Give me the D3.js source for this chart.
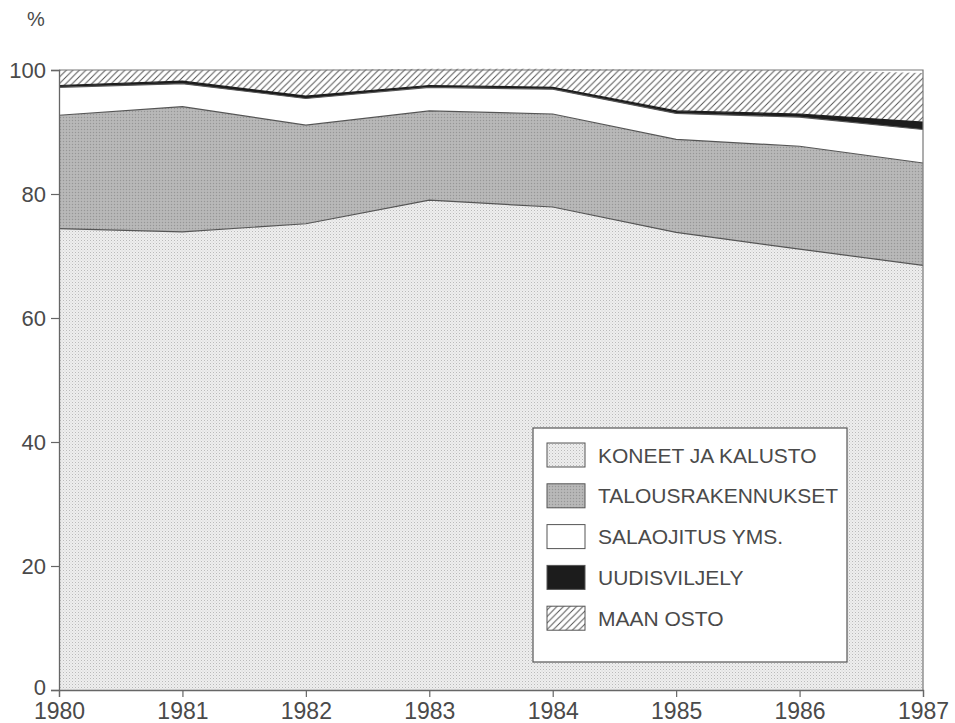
<!DOCTYPE html>
<html><head><meta charset="utf-8">
<script src="https://cdn.jsdelivr.net/npm/d3@7"></script>
<style>
body{margin:0;background:#fff;}
svg{display:block;}
text{font-family:"Liberation Sans",Arial,sans-serif;fill:#4a4a4a;}
</style></head>
<body>
<svg id="c" width="955" height="723"></svg>
<script>
const years = [1980,1981,1982,1983,1984,1985,1986,1987];
const koneet = [74.4,73.9,75.2,79.0,77.9,73.8,71.1,68.5];
const talous = [18.3,20.2,15.9,14.4,15.0,15.0,16.6,16.5];
const salaojitus = [4.5,3.7,4.3,3.8,4.0,4.2,4.7,5.4];
const uudis = [0.3,0.4,0.4,0.3,0.3,0.4,0.5,1.2];
const maanOsto = [2.5,1.8,4.2,2.7,3.0,6.6,7.1,7.9];
const yTicks = [0,20,40,60,80,100];
const seriesNames = ["KONEET JA KALUSTO","TALOUSRAKENNUKSET","SALAOJITUS YMS.","UUDISVILJELY","MAAN OSTO"];
const keys = ["koneet","talous","salaojitus","uudis","maan"];

const rows = years.map((y,i)=>({year:y,koneet:koneet[i],talous:talous[i],salaojitus:salaojitus[i],uudis:uudis[i],maan:maanOsto[i]}));

const svg = d3.select("#c");
const L=59, R=923, T=70, B=690;
const x = d3.scaleLinear().domain([1980,1987]).range([L,R]);
const y = d3.scaleLinear().domain([0,100]).range([B,T]);

const defs = svg.append("defs");
const p1 = defs.append("pattern").attr("id","pKon").attr("width",3).attr("height",3).attr("patternUnits","userSpaceOnUse");
p1.append("rect").attr("width",3).attr("height",3).attr("fill","#eeeeee");
p1.append("rect").attr("width",1).attr("height",1).attr("fill","#bababa");
p1.append("rect").attr("x",1.5).attr("y",1.5).attr("width",1).attr("height",1).attr("fill","#d2d2d2");
const p2 = defs.append("pattern").attr("id","pTal").attr("width",3).attr("height",3).attr("patternUnits","userSpaceOnUse");
p2.append("rect").attr("width",3).attr("height",3).attr("fill","#b4b4b4");
p2.append("rect").attr("width",1).attr("height",1).attr("fill","#969696");
p2.append("rect").attr("x",1.5).attr("y",1.5).attr("width",1).attr("height",1).attr("fill","#c6c6c6");
const p3 = defs.append("pattern").attr("id","pHatch").attr("width",6.5).attr("height",6.5).attr("patternUnits","userSpaceOnUse");
p3.append("rect").attr("width",6.5).attr("height",6.5).attr("fill","#fff");
p3.append("path").attr("d","M-1,7.5 L7.5,-1 M-1,1 L1,-1 M5.5,7.5 L7.5,5.5").attr("stroke","#555").attr("stroke-width",1);

const fills = {koneet:"url(#pKon)",talous:"url(#pTal)",salaojitus:"#fff",uudis:"#1c1c1c",maan:"url(#pHatch)"};

const stack = d3.stack().keys(keys);
const layers = stack(rows);
const area = d3.area().x(d=>x(d.data.year)).y0(d=>y(d[0])).y1(d=>y(d[1]));
const topLine = d3.line().x(d=>x(d.data.year)).y(d=>y(d[1]));

svg.append("g").selectAll("path").data(layers).join("path")
  .attr("d",area).attr("fill",d=>fills[d.key]).attr("stroke","none");
svg.append("g").selectAll("path").data(layers.slice(0,4)).join("path")
  .attr("d",topLine).attr("fill","none")
  .attr("stroke",d=>d.key==="uudis"?"#1c1c1c":"#555").attr("stroke-width",1.2);

svg.append("path").attr("d",`M${L},${T}H${R}V${B}`).attr("fill","none").attr("stroke","#777").attr("stroke-width",1.2);

const yAxis = d3.axisLeft(y).tickValues(yTicks).tickSize(8).tickPadding(5).tickFormat(d3.format("d"));
const gy = svg.append("g").attr("transform",`translate(${L},0)`).call(yAxis);
gy.select(".domain").attr("stroke","#666").attr("stroke-width",1.3);
gy.selectAll(".tick line").attr("stroke","#666").attr("stroke-width",1.2);
gy.selectAll(".tick text").attr("font-size",22).attr("fill","#555").attr("font-family","Liberation Sans, Arial, sans-serif")
  .attr("dy",d=>d===0?"0.2em":"0.32em");

const xAxis = d3.axisBottom(x).tickValues(years).tickSize(7).tickPadding(6).tickFormat(d3.format("d"));
const gx = svg.append("g").attr("transform",`translate(0,${B})`).call(xAxis);
gx.select(".domain").attr("stroke","#666").attr("stroke-width",1.3);
gx.selectAll(".tick line").attr("stroke","#666").attr("stroke-width",1.2);
gx.selectAll(".tick text").attr("font-size",23).attr("fill","#555").attr("font-family","Liberation Sans, Arial, sans-serif").attr("dy","0.71em");

svg.append("text").attr("x",36).attr("y",26).attr("text-anchor","middle").attr("font-size",20).attr("fill","#666").text("%");

const lg = svg.append("g");
lg.append("rect").attr("x",533).attr("y",428).attr("width",314).attr("height",234).attr("fill","#fff").attr("stroke","#555").attr("stroke-width",1.2);
seriesNames.forEach((name,i)=>{
  const cy = 455 + i*40.8;
  lg.append("rect").attr("x",547).attr("y",cy-12).attr("width",38).attr("height",24)
    .attr("fill",fills[keys[i]]).attr("stroke","#555").attr("stroke-width",1);
  lg.append("text").attr("x",598).attr("y",cy).attr("dy","0.36em").attr("font-size",21).attr("fill","#4a4a4a").text(name);
});
</script>
</body></html>
